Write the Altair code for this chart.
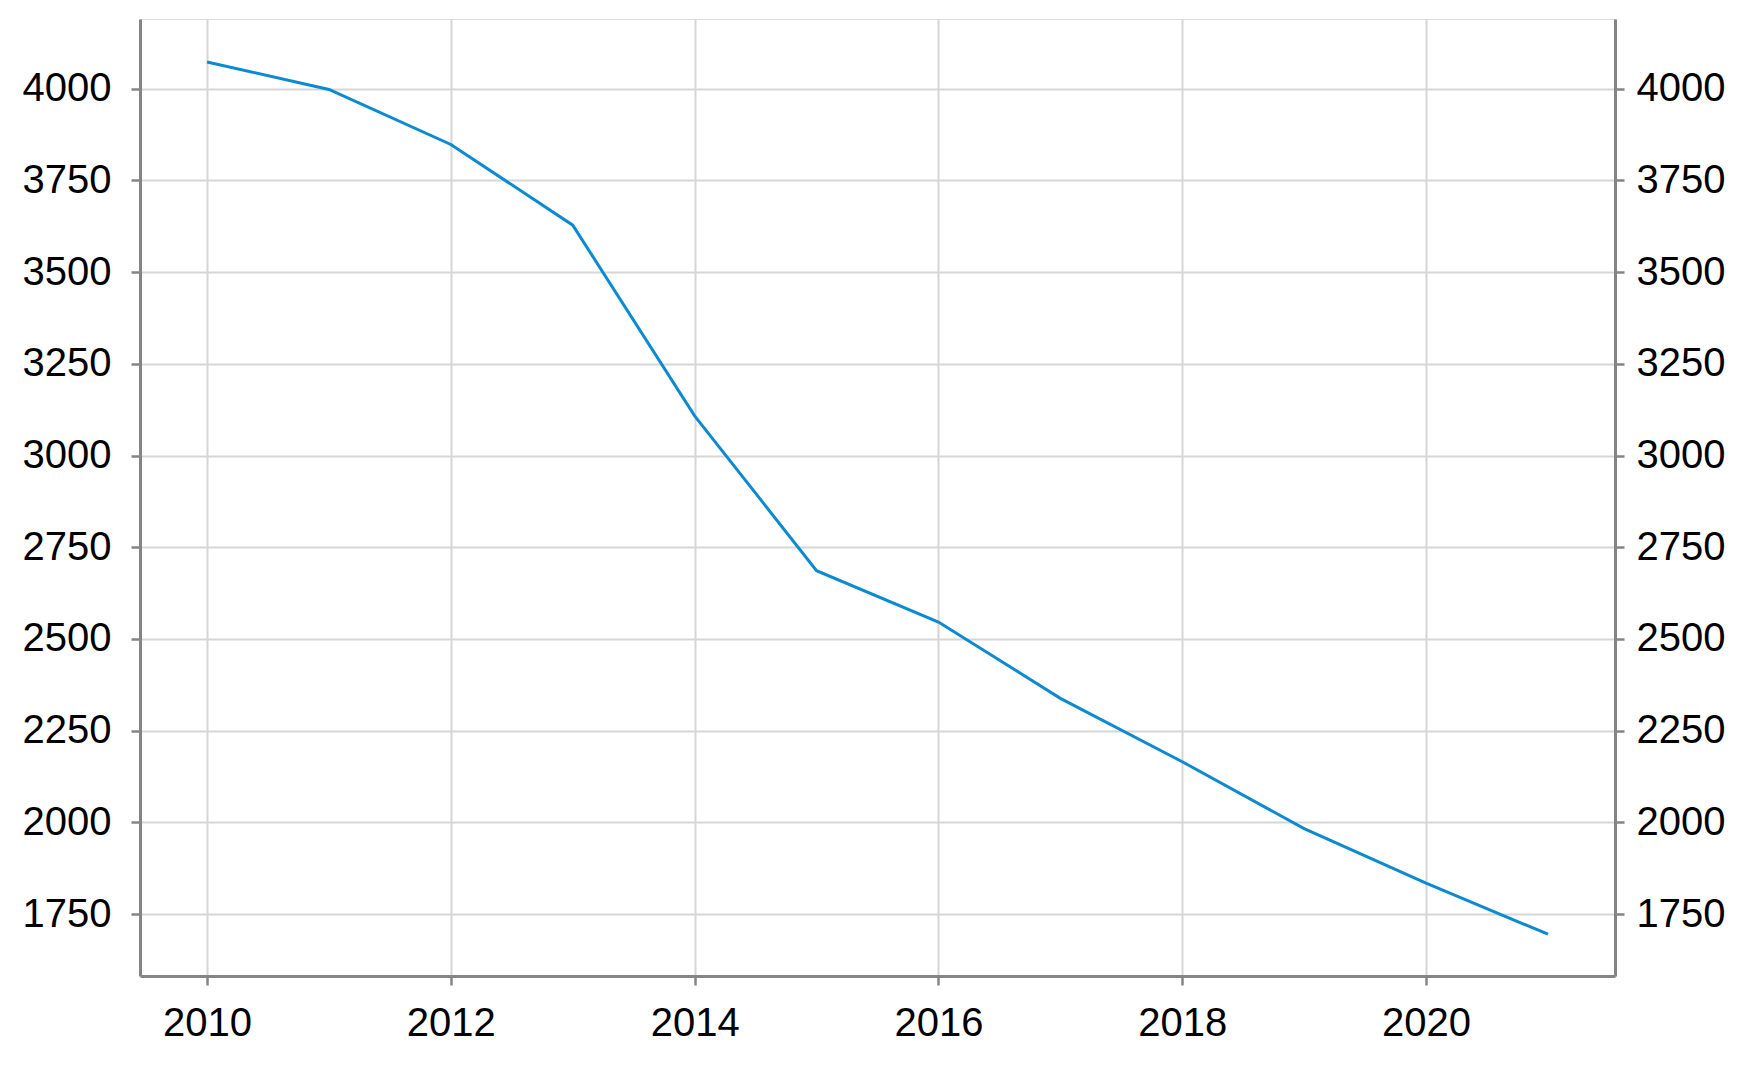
import altair as alt
import pandas as pd

years = [2010, 2011, 2012, 2013, 2014, 2015, 2016, 2017, 2018, 2019, 2020, 2021]
values = [4073, 3998, 3848, 3628, 3108, 2686, 2546, 2338, 2165, 1983, 1834, 1695]

x_ticks = [2010, 2012, 2014, 2016, 2018, 2020]
y_ticks = [1750, 2000, 2250, 2500, 2750, 3000, 3250, 3500, 3750, 4000]

df = pd.DataFrame({"year": years, "value": values})

FONT = "Liberation Sans"
FS = 40

x_enc = alt.X(
    "year:Q",
    scale=alt.Scale(domain=[2009.45, 2021.55], nice=False, zero=False),
    axis=alt.Axis(
        values=x_ticks, format="d", title=None, grid=True,
        gridColor="#d6d6d6", gridWidth=2,
        domainColor="#858585", domainWidth=3,
        tickColor="#858585", tickWidth=2.5, tickSize=9,
        labelFont=FONT, labelFontSize=FS, labelColor="#000000", labelPadding=18,
    ),
)

y_scale = alt.Scale(domain=[1581, 4190], nice=False, zero=False)

left = alt.Chart(df).mark_line(color="#0a8ad0", strokeWidth=3).encode(
    x=x_enc,
    y=alt.Y(
        "value:Q", scale=y_scale,
        axis=alt.Axis(
            values=y_ticks, format="d", title=None, grid=True, orient="left",
            gridColor="#d6d6d6", gridWidth=2,
            domainColor="#858585", domainWidth=3,
            tickColor="#858585", tickWidth=2.5, tickSize=9,
            labelFont=FONT, labelFontSize=FS, labelColor="#000000", labelPadding=20,
        ),
    ),
)

right = alt.Chart(df).mark_line(opacity=0).encode(
    x=x_enc,
    y=alt.Y(
        "value:Q", scale=y_scale,
        axis=alt.Axis(
            values=y_ticks, format="d", title=None, grid=False, orient="right",
            domainColor="#858585", domainWidth=3,
            tickColor="#858585", tickWidth=2.5, tickSize=9,
            labelFont=FONT, labelFontSize=FS, labelColor="#000000", labelPadding=12,
        ),
    ),
)

chart = (
    alt.layer(left, right)
    .resolve_scale(y="shared")
    .resolve_axis(y="independent")
    .properties(
        width=1475, height=957,
        autosize=alt.AutoSizeParams(type="none"),
        padding={"left": 132, "top": 11, "right": 120, "bottom": 70},
    )
    .configure_view(stroke="#c4c4c4", strokeWidth=3)
    .configure(background="white")
)

chart.save("out.html", embed_options={"renderer": "svg", "actions": False})
